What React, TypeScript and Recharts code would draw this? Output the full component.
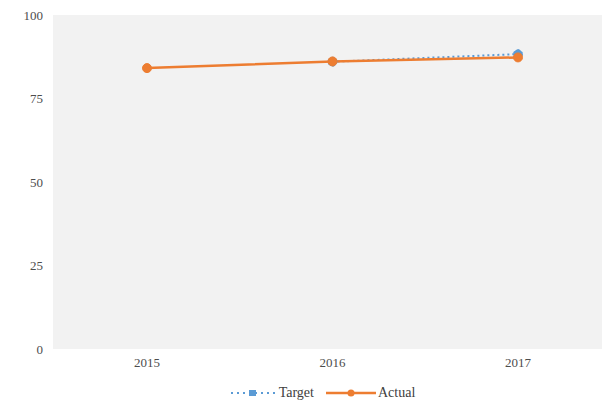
import { CartesianGrid, Legend, Line, LineChart, XAxis, YAxis } from 'recharts';

const years = ['2015', '2016', '2017'];
const target: (number | null)[] = [null, 86, 88.3];
const actual = [84.1, 86.1, 87.3];
const yTicks = [0, 25, 50, 75, 100];

const data = years.map((year, i) => ({ year, target: target[i], actual: actual[i] }));

const serif = '"Liberation Serif", "Times New Roman", serif';
const tickFont = { fontFamily: serif, fontSize: 13, fill: '#4d4d4d' };

function LegendContent() {
  return (
    <div
      style={{
        display: 'flex',
        justifyContent: 'center',
        alignItems: 'center',
        paddingLeft: 42,
        fontFamily: serif,
        fontSize: 14,
        color: '#404040',
        height: 20,
      }}
    >
      <span style={{ display: 'flex', alignItems: 'center', gap: 2, marginRight: 12 }}>
        <svg width={48} height={10}>
          <line x1={2} y1={5} x2={47} y2={5} stroke="#5b9bd5" strokeWidth={2} strokeDasharray="2 4" />
          <rect x={20} y={2} width={7} height={6} fill="#5b9bd5" />
        </svg>
        Target
      </span>
      <span style={{ display: 'flex', alignItems: 'center', gap: 2 }}>
        <svg width={50} height={10}>
          <line x1={0} y1={5} x2={50} y2={5} stroke="#ed7d31" strokeWidth={2.5} />
          <circle cx={25} cy={5} r={3.5} fill="#ed7d31" />
        </svg>
        Actual
      </span>
    </div>
  );
}

export default function App() {
  return (
    <div style={{ position: 'absolute', left: 0, top: 0, width: 602, height: 408, background: '#fff' }}>
      <LineChart width={602} height={408} data={data} margin={{ top: 15, right: 0, bottom: 5, left: 0 }}>
        <CartesianGrid fill="#f2f2f2" horizontal={false} vertical={false} />
        <XAxis
          dataKey="year"
          axisLine={false}
          tickLine={false}
          tickMargin={3}
          height={34}
          padding={{ left: 94, right: 84 }}
          tick={tickFont}
        />
        <YAxis
          domain={[0, 100]}
          ticks={yTicks}
          axisLine={false}
          tickLine={false}
          tickMargin={4}
          width={53}
          tick={tickFont}
        />
        <Legend verticalAlign="bottom" height={20} content={() => <LegendContent />} />
        <Line
          dataKey="target"
          stroke="#5b9bd5"
          strokeWidth={2}
          strokeDasharray="2 3"
          dot={{ r: 4.5, fill: '#5b9bd5', stroke: '#5b9bd5', strokeWidth: 1 }}
          isAnimationActive={false}
        />
        <Line
          dataKey="actual"
          stroke="#ed7d31"
          strokeWidth={2.5}
          dot={{ r: 4.5, fill: '#ed7d31', stroke: '#ed7d31', strokeWidth: 1 }}
          isAnimationActive={false}
        />
      </LineChart>
    </div>
  );
}
